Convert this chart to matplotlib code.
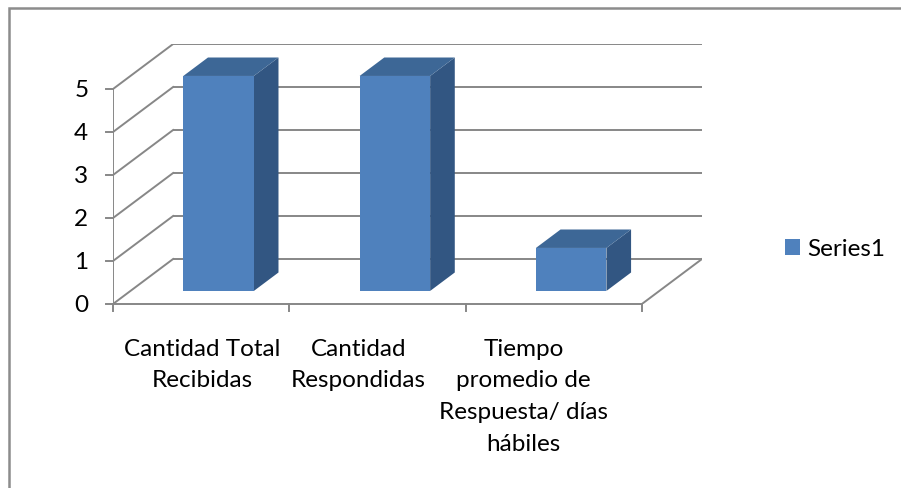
import matplotlib.pyplot as plt
from matplotlib.patches import Polygon, Patch, Rectangle

categories = ["Cantidad Total\nRecibidas", "Cantidad\nRespondidas",
              "Tiempo\npromedio de\nRespuesta/ días\nhábiles"]
values = [5, 5, 1]
yticks = [0, 1, 2, 3, 4, 5]
series_name = "Series1"

# fake 3d: oblique offset for full depth (x in category units, y in value units)
DX, DY = 0.341, 1.047
Z0, Z1 = 0.29, 0.70      # bar depth span
BW = 0.40                # bar width
GRID = "#878787"
FRONT, TOP, SIDE = "#4F81BD", "#3D6796", "#325682"

plt.rcParams["font.family"] = ["Lato", "DejaVu Sans"]
FS = 17.5


def proj(x, y, z):
    return (x + z * DX, y + z * DY)


fig = plt.figure(figsize=(9.01, 4.89), dpi=100)
W, H = 901, 489
ax = fig.add_axes([113 / W, 1 - 305 / H, (702 - 113) / W, (305 - 45) / H])
n = len(categories)
ax.set_xlim(0, n + DX)
ax.set_ylim(0, yticks[-1] + DY)
ax.axis("off")

# walls and gridlines
lw = 1.4
for t in yticks:
    x0, y0 = proj(0, t, 1)
    x1, y1 = proj(n, t, 1)
    ax.plot([x0, x1], [y0, y1], color=GRID, lw=lw, solid_capstyle="butt")
    a, b = proj(0, t, 0)
    ax.plot([a, x0], [b, y0], color=GRID, lw=lw)
    ax.plot([-0.04, 0], [t, t], color=GRID, lw=lw, clip_on=False)
    ax.text(-0.14, t, str(t), ha="right", va="center", fontsize=FS)
ax.plot([0, 0], [0, yticks[-1]], color=GRID, lw=lw)
ax.plot([0, n], [0, 0], color=GRID, lw=lw, clip_on=False)
a, b = proj(n, 0, 1)
ax.plot([n, a], [0, b], color=GRID, lw=lw)
for i in range(n + 1):
    ax.plot([i, i], [0, -0.16], color=GRID, lw=lw, clip_on=False)

# bars
for i, v in enumerate(values):
    xl, xr = i + 0.5 - BW / 2, i + 0.5 + BW / 2
    front = [proj(xl, 0, Z0), proj(xr, 0, Z0), proj(xr, v, Z0), proj(xl, v, Z0)]
    top = [proj(xl, v, Z0), proj(xr, v, Z0), proj(xr, v, Z1), proj(xl, v, Z1)]
    side = [proj(xr, 0, Z0), proj(xr, 0, Z1), proj(xr, v, Z1), proj(xr, v, Z0)]
    ax.add_patch(Polygon(side, closed=True, fc=SIDE, ec="none", zorder=3))
    ax.add_patch(Polygon(top, closed=True, fc=TOP, ec="none", zorder=3))
    ax.add_patch(Polygon(front, closed=True, fc=FRONT, ec="none", zorder=4))

# category labels
label_x = [0.506, 1.392, 2.33]
for x, lab in zip(label_x, categories):
    ax.text(x, -0.78, lab, ha="center", va="top", fontsize=FS, linespacing=1.63)

fig.legend(handles=[Patch(fc=FRONT, ec="none", label=series_name)],
           loc="center left", bbox_to_anchor=(785 / W, 1 - 250 / H),
           frameon=False, fontsize=FS, handlelength=0.6, handleheight=0.6,
           handletextpad=0.3, borderpad=0, borderaxespad=0)

# chart border (only top/left visible)
fig.patches.append(Rectangle((8.5 / W, -0.1), 1.2, 1 - 8.5 / H + 0.1,
                             transform=fig.transFigure, fill=False,
                             ec="#8c8c8c", lw=1.8))

fig.savefig("out.png", dpi=100)
